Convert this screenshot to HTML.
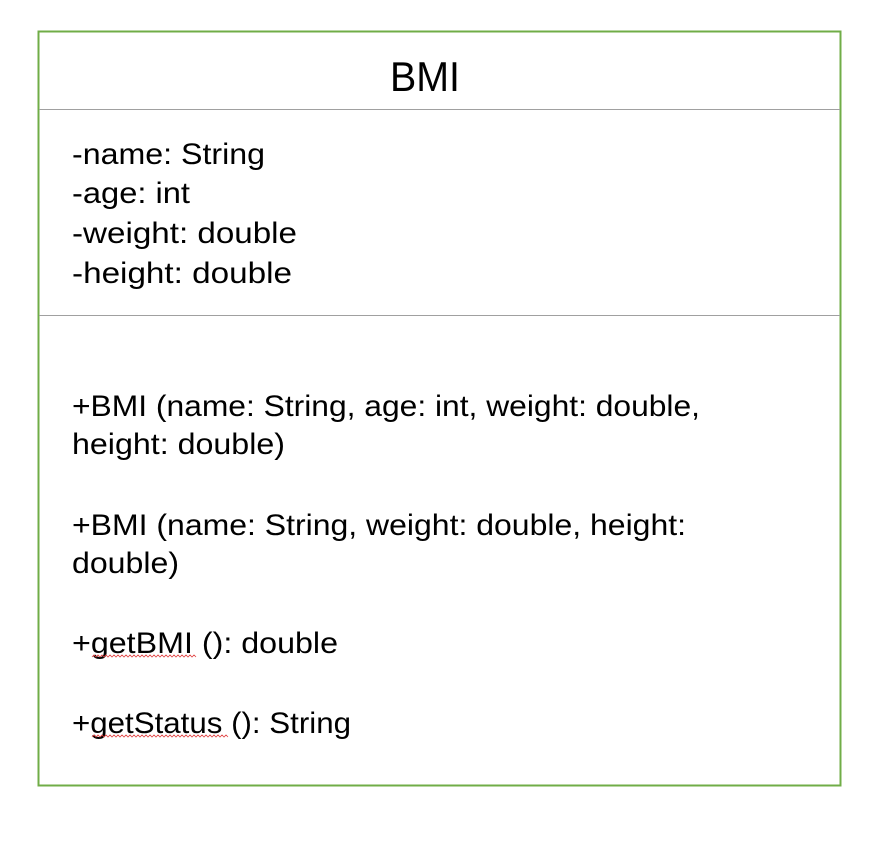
<!DOCTYPE html>
<html><head><meta charset="utf-8"><style>html,body{margin:0;padding:0;background:#fff;width:880px;height:848px;overflow:hidden}</style></head>
<body>
<svg width="880" height="848" xmlns="http://www.w3.org/2000/svg" font-family="'Liberation Sans', 'Noto Sans CJK SC', sans-serif" fill="#000">
<rect x="0" y="0" width="880" height="848" fill="#fff"/>
<rect x="38.5" y="31.5" width="802" height="754" fill="none" stroke="#70ad47" stroke-width="2"/>
<line x1="39" y1="109.5" x2="840" y2="109.5" stroke="#a0a0a0" stroke-width="1"/>
<line x1="39" y1="315.5" x2="840" y2="315.5" stroke="#a0a0a0" stroke-width="1"/>
<text x="390" y="91" font-size="42" textLength="70" lengthAdjust="spacingAndGlyphs">BMI</text>
<g font-size="30" lengthAdjust="spacingAndGlyphs">
<text x="72" y="164" textLength="193" lengthAdjust="spacingAndGlyphs">-name: String</text>
<text x="72" y="203" textLength="118" lengthAdjust="spacingAndGlyphs">-age: int</text>
<text x="72" y="243" textLength="225" lengthAdjust="spacingAndGlyphs">-weight: double</text>
<text x="72" y="283" textLength="220" lengthAdjust="spacingAndGlyphs">-height: double</text>
<text x="72" y="416" textLength="628" lengthAdjust="spacingAndGlyphs">+BMI (name: String, age: int, weight: double,</text>
<text x="72" y="454" textLength="213" lengthAdjust="spacingAndGlyphs">height: double)</text>
<text x="72" y="535" textLength="614" lengthAdjust="spacingAndGlyphs">+BMI (name: String, weight: double, height:</text>
<text x="72" y="573" textLength="107" lengthAdjust="spacingAndGlyphs">double)</text>
<text x="72" y="653" textLength="266" lengthAdjust="spacingAndGlyphs">+getBMI (): double</text>
<text x="72" y="733" textLength="279" lengthAdjust="spacingAndGlyphs">+getStatus (): String</text>
</g>
<path d="M92 657 l2 -2 l2 2 l2 -2 l2 2 l2 -2 l2 2 l2 -2 l2 2 l2 -2 l2 2 l2 -2 l2 2 l2 -2 l2 2 l2 -2 l2 2 l2 -2 l2 2 l2 -2 l2 2 l2 -2 l2 2 l2 -2 l2 2 l2 -2 l2 2 l2 -2 l2 2 l2 -2 l2 2 l2 -2 l2 2 l2 -2 l2 2 l2 -2 l2 2 l2 -2 l2 2 l2 -2 l2 2 l2 -2 l2 2 l2 -2 l2 2 l2 -2 l2 2 l2 -2 l2 2 l2 -2 l2 2 l2 -2 l2 2" fill="none" stroke="#e04040" stroke-width="0.8"/>
<path d="M92 737 l2 -2 l2 2 l2 -2 l2 2 l2 -2 l2 2 l2 -2 l2 2 l2 -2 l2 2 l2 -2 l2 2 l2 -2 l2 2 l2 -2 l2 2 l2 -2 l2 2 l2 -2 l2 2 l2 -2 l2 2 l2 -2 l2 2 l2 -2 l2 2 l2 -2 l2 2 l2 -2 l2 2 l2 -2 l2 2 l2 -2 l2 2 l2 -2 l2 2 l2 -2 l2 2 l2 -2 l2 2 l2 -2 l2 2 l2 -2 l2 2 l2 -2 l2 2 l2 -2 l2 2 l2 -2 l2 2 l2 -2 l2 2 l2 -2 l2 2 l2 -2 l2 2 l2 -2 l2 2 l2 -2 l2 2 l2 -2 l2 2 l2 -2 l2 2 l2 -2 l2 2 l2 -2 l2 2" fill="none" stroke="#e04040" stroke-width="0.8"/>
</svg>
</body></html>
